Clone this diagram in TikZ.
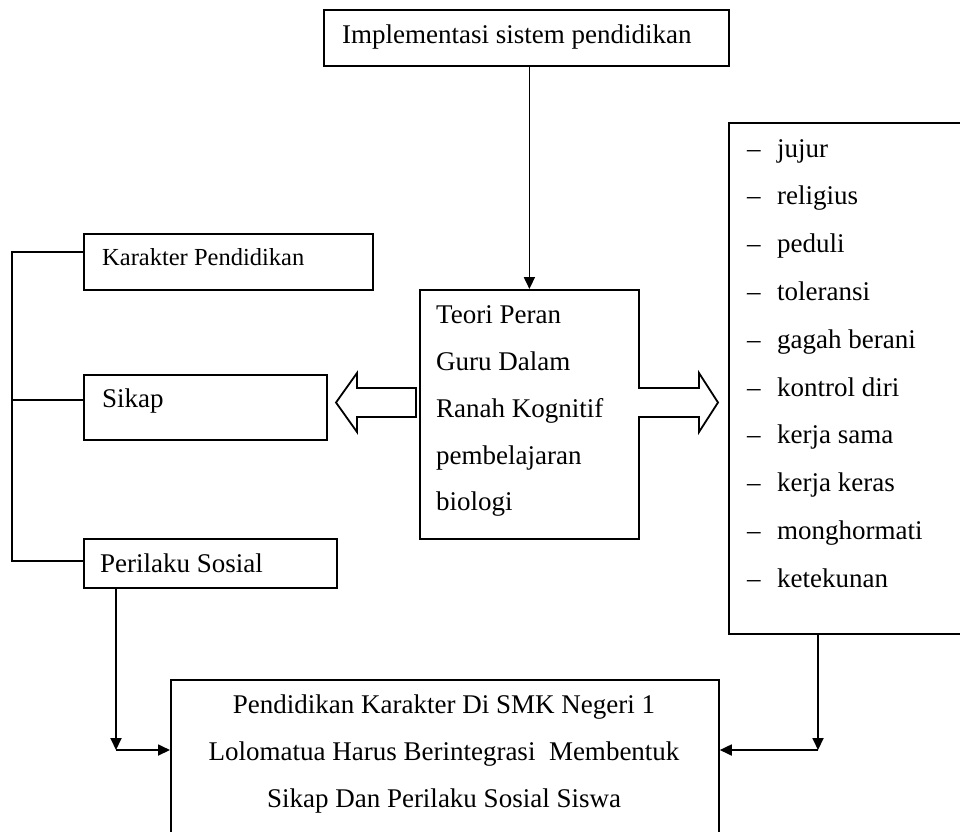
\documentclass[tikz,border=0pt]{standalone}
\usepackage{fontspec}
\setmainfont{Liberation Serif}
\usetikzlibrary{arrows.meta}
\begin{document}
\begin{tikzpicture}[x=1pt,y=-1pt,
  box/.style={draw,line width=1.8pt,inner sep=0pt,anchor=north west},
  txt/.style={anchor=base west,inner sep=0pt,font=\fontsize{27}{27}\selectfont},
  ctxt/.style={anchor=base,inner sep=0pt,font=\fontsize{27}{27}\selectfont},
  arr/.style={line width=1.8pt,-{Triangle[length=12pt,width=11pt]}},
  ln/.style={line width=1.8pt},
  hollow/.style={draw,line width=1.8pt,line join=miter,fill=white}]
\useasboundingbox (0,0) rectangle (960,831);

% top box
\node[box,minimum width=405pt,minimum height=56pt] (top) at (323,9) {};
\node[txt] (toptxt) at (342,43) {Implementasi sistem pendidikan};

% middle box
\node[box,minimum width=219pt,minimum height=249pt] (mid) at (419,289) {};
\node[txt] (m1) at (436,323) {Teori Peran};
\node[txt] (m2) at (436,370) {Guru Dalam};
\node[txt] (m3) at (436,417) {Ranah Kognitif};
\node[txt] (m4) at (436,464) {pembelajaran};
\node[txt] (m5) at (436,510) {biologi};

% left boxes
\node[box,minimum width=289pt,minimum height=56pt] (kp) at (83,233) {};
\node[txt,font=\fontsize{24.5}{24.5}\selectfont] (kptxt) at (102,265) {Karakter Pendidikan};
\node[box,minimum width=243pt,minimum height=65pt] (sk) at (83,374) {};
\node[txt] (sktxt) at (102,407) {Sikap};
\node[box,minimum width=253pt,minimum height=49pt] (ps) at (83,538) {};
\node[txt] (pstxt) at (100,572) {Perilaku Sosial};

% right list box
\node[box,minimum width=245pt,minimum height=511pt] (list) at (728,122) {};
\foreach \t [count=\i from 0] in {jujur,religius,peduli,toleransi,gagah berani,kontrol diri,kerja sama,kerja keras,monghormati,ketekunan}{
  \node[txt] (ld\i) at (747,{157+47.8*\i}) {–};
  \node[txt] (li\i) at (777,{157+47.8*\i}) {\t};
}

% bottom box
\node[box,minimum width=548pt,minimum height=170pt] (bot) at (170,679) {};
\node[ctxt] (b1) at (444,713) {Pendidikan Karakter Di SMK Negeri 1};
\node[ctxt] (b2) at (444,760) {Lolomatua Harus Berintegrasi~ Membentuk};
\node[ctxt] (b3) at (444,807) {Sikap Dan Perilaku Sosial Siswa};

% arrow top -> mid
\draw[arr] (top.south -| mid.north) -- (mid.north);

% bracket on the left
\coordinate (k1) at (12,252);
\coordinate (k2) at (12,400);
\coordinate (k3) at (12,561);
\draw[ln] (kp.west |- k1) -- (k1) -- (k3) -- (ps.west |- k3);
\draw[ln] (k2) -- (sk.west |- k2);

% hollow block arrows
\draw[hollow] (416,388) -- (357,388) -- (357,373) -- (336,402.5) -- (357,432) -- (357,417) -- (416,417) -- cycle;
\draw[hollow] (638,388) -- (699,388) -- (699,373) -- (718,402.5) -- (699,432) -- (699,417) -- (638,417);

% bottom connectors
\coordinate (c1) at (116,750);
\draw[arr] (ps.south -| c1) -- (c1);
\draw[arr] (c1) -- (bot.west |- c1);
\coordinate (c2) at (818,750);
\draw[arr] (list.south -| c2) -- (c2);
\draw[arr] (c2) -- (bot.east |- c2);
\end{tikzpicture}
\end{document}
